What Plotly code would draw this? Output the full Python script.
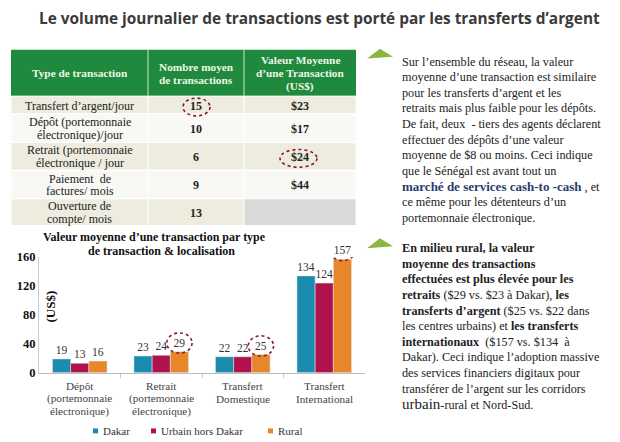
import plotly.graph_objects as go

# la fenêtre affiche 620x451 environ, réduit ensuite à 620x442 ; marge du body 8 px
V = 451
W, H, M = 604, V - 16, 8
D = 3  # petit décalage vertical constaté au rendu

# données du tableau
entetes = ["Type de transaction", "Nombre moyen<br>de transactions",
           "Valeur Moyenne<br>d’une Transaction<br>(US$)"]
types_transaction = ["Transfert d’argent/jour", "Dépôt (portemonnaie<br>électronique)/jour",
                     "Retrait (portemonnaie<br>électronique / jour", "Paiement  de<br>factures/ mois",
                     "Ouverture de<br>compte/ mois"]
nombre_moyen = ["15", "10", "6", "9", "13"]
valeur_moyenne = ["$23", "$17", "$24", "$44", ""]

# données du graphique
categories = ["Dépôt<br>(portemonnaie<br>électronique)", "Retrait<br>(portemonnaie<br>électronique)",
              "Transfert<br>Domestique", "Transfert<br>International"]
series = ["Dakar", "Urbain hors Dakar", "Rural"]
dakar = [19, 23, 22, 134]
urbain = [13, 24, 22, 124]
rural = [16, 29, 25, 157]
couleurs = ["#1c8cae", "#b0124e", "#e8862a"]

SERIF = "Liberation Serif"


def px(x):
    return (x - M) / W


def py(y):
    return 1 - ((y - D) * V / 442 - M) / H


fig = go.Figure()


def texte(x, y, s, size=12, color="#222", bold=False, anchor="center", family=SERIF, **kw):
    fig.add_annotation(x=px(x), y=py(y), xref="paper", yref="paper", showarrow=False,
                       xanchor=anchor, yanchor="middle", text="<b>%s</b>" % s if bold else s,
                       font=dict(family=family, size=size, color=color), **kw)


def lignes(x, yc, s, pas, **kw):
    parts = s.split("<br>")
    y0 = yc - pas * (len(parts) - 1) / 2
    for k, p in enumerate(parts):
        texte(x, y0 + k * pas, p, **kw)


# tableau
cols = [11, 148, 244, 356]
rangs = [46, 93, 111, 140, 168, 197, 224]
beige, blanc, gris = "#edecdf", "#f8f8f4", "#d9d9d9"
vert = "#1f8a3d"
fig.add_shape(type="rect", xref="paper", yref="paper", x0=px(cols[0]), x1=px(cols[-1]),
              y0=py(rangs[0]), y1=py(rangs[1]), fillcolor=vert, line_width=0, layer="below")
for j in range(3):
    lignes((cols[j] + cols[j + 1]) / 2, (rangs[0] + rangs[1]) / 2 + 0.5, entetes[j], 13.3,
           size=11.3, color="#eef7e6", bold=True)
for j in (1, 2):
    fig.add_shape(type="line", xref="paper", yref="paper", x0=px(cols[j]), x1=px(cols[j]),
                  y0=py(rangs[0]), y1=py(rangs[1]), line=dict(color="#cfe6c8", width=1))
colonnes = [types_transaction, nombre_moyen, valeur_moyenne]
for i in range(5):
    for j in range(3):
        fond = beige if i % 2 == 0 else blanc
        if colonnes[j][i] == "":
            fond = gris
        fig.add_shape(type="rect", xref="paper", yref="paper", x0=px(cols[j]), x1=px(cols[j + 1]),
                      y0=py(rangs[i + 1]), y1=py(rangs[i + 2]), fillcolor=fond,
                      line=dict(color="white", width=1), layer="below")
        if colonnes[j][i]:
            lignes((cols[j] + cols[j + 1]) / 2, (rangs[i + 1] + rangs[i + 2]) / 2 + 0.5,
                   colonnes[j][i], 13, size=12, color="#222", bold=(j > 0))

# graphique à barres
for nom, vals, coul in zip(series, [dakar, urbain, rural], couleurs):
    fig.add_trace(go.Bar(x=list(range(len(categories))), y=vals, name=nom, marker_color=coul,
                         text=vals, textposition="outside", cliponaxis=False,
                         textfont=dict(family=SERIF, size=11.5, color="#333")))

fig.update_layout(
    width=W, height=H, margin=dict(l=0, r=0, t=0, b=0),
    paper_bgcolor="white", plot_bgcolor="white",
    barmode="group", bargap=0.33, bargroupgap=0, showlegend=False,
    xaxis=dict(domain=[px(39), px(365)], range=[-0.5, 3.5], showline=True, linecolor="#bbb",
               ticks="outside", tickvals=[0.5, 1.5, 2.5], ticklen=4, tickcolor="#ccc",
               showticklabels=False, showgrid=False, zeroline=False),
    yaxis=dict(domain=[py(373), py(256)], range=[0, 160], tickvals=[0, 40, 80, 120, 160],
               showgrid=False, showline=True, linecolor="#ccc", zeroline=False,
               tickfont=dict(family=SERIF, size=12.5, color="#111", weight="bold")),
)

# étiquettes des catégories
for i, c in enumerate(categories):
    for k, p in enumerate(c.split("<br>")):
        fig.add_annotation(x=i, y=py(387 + 12.5 * k), xref="x", yref="paper", showarrow=False,
                           yanchor="middle", text=p,
                           font=dict(family=SERIF, size=11.2, color="#444"))

# légende
for nom, coul, xs in zip(series, couleurs, [93, 151, 268]):
    fig.add_shape(type="rect", xref="paper", yref="paper", x0=px(xs), x1=px(xs + 5),
                  y0=py(429.5), y1=py(434.5), fillcolor=coul, line_width=0)
    texte(xs + 8, 432, nom, size=11, color="#333", anchor="left")

# titres
texte(319, 14, "Le volume journalier de transactions est porté par les transferts d’argent",
      size=15.4, color="#3a3a3a", family="Open Sans", bold=True)
texte(154, 236, "Valeur moyenne d’une transaction par type", size=12, color="#111", bold=True)
texte(161, 250, "de transaction & localisation", size=12, color="#111", bold=True)
texte(50, 306, "(US$)", size=13, color="#111", bold=True, textangle=-90)

# cercles pointillés
rouge = "#8b1a2b"
for x0, y0, x1, y1 in [(183, 95, 210, 113), (280, 147, 317, 165)]:
    fig.add_shape(type="circle", xref="paper", yref="paper",
                  x0=px(x0), x1=px(x1), y0=py(y0), y1=py(y1),
                  line=dict(color=rouge, width=1.6, dash="dot"))
for i in (1, 2, 3):
    v = rural[i]
    fig.add_shape(type="circle", xref="x", yref="y",
                  x0=i + 0.223 - 0.155, x1=i + 0.223 + 0.155, y0=v - 2, y1=v + 26,
                  line=dict(color=rouge, width=1.6, dash="dot"))

# triangles verts
for y in [45, 237]:
    fig.add_shape(type="path", xref="paper", yref="paper",
                  path="M %f,%f L %f,%f L %f,%f Z" % (px(367), py(y + 10), px(380), py(y),
                                                      px(393), py(y + 8)),
                  fillcolor="#8db53f", line_width=0)

# textes de droite
para1 = ["Sur l’ensemble du réseau, la valeur",
         "moyenne d’une transaction est similaire",
         "pour les transferts d’argent et les",
         "retraits mais plus faible pour les dépôts.",
         "De fait, deux  - tiers des agents déclarent",
         "effectuer des dépôts d’une valeur",
         "moyenne de $8 ou moins. Ceci indique",
         "que le Sénégal est avant tout un",
         "<span style='color:#2b3c6b;font-size:13px'><b>marché de services cash-to -cash</b></span> , et",
         "ce même pour les détenteurs d’un",
         "portemonnaie électronique."]
para2 = ["<b>En milieu rural, la valeur</b>",
         "<b>moyenne des transactions</b>",
         "<b>effectuées est plus élevée pour les</b>",
         "<b>retraits</b> ($29 vs. $23 à Dakar), <b>les</b>",
         "<b>transferts d’argent</b> ($25 vs. $22 dans",
         "les centres urbains) et <b>les transferts</b>",
         "<b>internationaux</b>  ($157 vs. $134  à",
         "Dakar). Ceci indique l’adoption massive",
         "des services financiers digitaux pour",
         "transférer de l’argent sur les corridors",
         "<span style='font-size:15px'>urbain</span>-rural et Nord-Sud."]
for para, y0 in [(para1, 58), (para2, 247)]:
    for k, ligne in enumerate(para):
        texte(400, y0 + 15.8 * k, ligne, size=12.2, color="#222", anchor="left")

fig.write_html("out.html")
